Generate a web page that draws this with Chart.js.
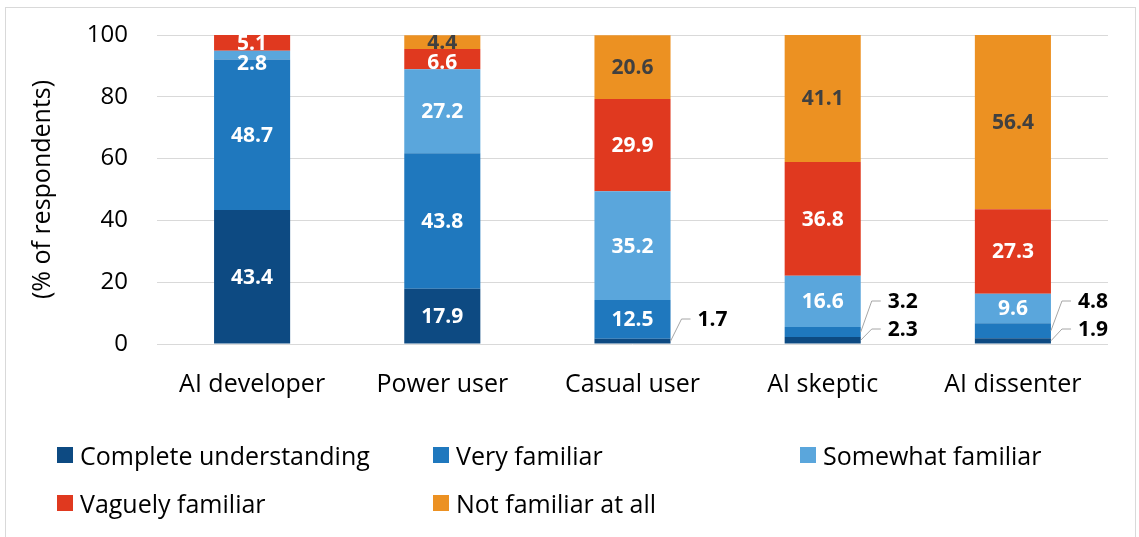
<!DOCTYPE html>
<html>
<head>
<meta charset="utf-8">
<script src="https://cdn.jsdelivr.net/npm/chart.js@4.4.1/dist/chart.umd.min.js"></script>
<style>
  html, body { margin: 0; padding: 0; background: #fff; }
  #wrap { position: relative; width: 1139px; height: 537px; overflow: hidden; font-family: "Open Sans", sans-serif; }
  #frame { position: absolute; left: 5px; top: 7px; width: 1129px; height: 540px; border: 1px solid #d9d9d9; pointer-events: none; }
  canvas { position: absolute; left: 0; top: 0; }
  .leg { position: absolute; display: flex; align-items: center; font-size: 25px; color: #000; white-space: nowrap; }
  .leg span.box { display: inline-block; width: 16px; height: 16px; margin-right: 7px; }
</style>
</head>
<body>
<div id="wrap">
  <canvas id="chart" width="1139" height="537"></canvas>
  <div id="legend"></div>
  <div id="frame"></div>
</div>
<script>
// Categorías y series
const categorias = ['AI developer', 'Power user', 'Casual user', 'AI skeptic', 'AI dissenter'];
const series = ['Complete understanding', 'Very familiar', 'Somewhat familiar', 'Vaguely familiar', 'Not familiar at all'];
const completa = [43.4, 17.9, 1.7, 2.3, 1.9];
const muyFamiliar = [48.7, 43.8, 12.5, 3.2, 4.8];
const algoFamiliar = [2.8, 27.2, 35.2, 16.6, 9.6];
const vagamente = [5.1, 6.6, 29.9, 36.8, 27.3];
const nada = [0, 4.4, 20.6, 41.1, 56.4];
const ticksY = [0, 20, 40, 60, 80, 100];

const colores = ['#0d4a82', '#1f78be', '#5aa6dc', '#e0391f', '#ec9122'];
const FUENTE = '"Open Sans", sans-serif';

const valores = [completa, muyFamiliar, algoFamiliar, vagamente, nada];

// Etiquetas de datos (dentro y fuera con línea guía)
const etiquetasPlugin = {
    id: 'etiquetas',
    afterDatasetsDraw(chart) {
        const ctx = chart.ctx;
        const area = chart.chartArea;
        const yScale = chart.scales.y;
        const zeroY = yScale.getPixelForValue(0);
        ctx.save();
        ctx.font = 'bold 21px ' + FUENTE;
        ctx.textAlign = 'center';
        ctx.textBaseline = 'middle';
        categorias.forEach((cat, i) => {
            // dentro, de arriba hacia abajo
            let prevY = -Infinity;
            const fuera = [];
            for (let d = valores.length - 1; d >= 0; d--) {
                const v = valores[d][i];
                if (!v) continue;
                const bar = chart.getDatasetMeta(d).data[i];
                const cy = (bar.y + bar.base) / 2;
                if (d <= 1 && v < 5) {
                    fuera.unshift({ v, cy, bar });
                    continue;
                }
                const y = Math.max(cy, prevY + 20);
                prevY = y;
                ctx.save();
                ctx.beginPath();
                ctx.rect(area.left, area.top, area.right - area.left, area.bottom - area.top);
                ctx.clip();
                ctx.fillStyle = d === 4 ? '#404040' : '#ffffff';
                ctx.fillText(v.toFixed(1), bar.x, y + 1);
                ctx.restore();
            }
            // fuera, de abajo hacia arriba
            fuera.forEach((f, k) => {
                const right = f.bar.x + f.bar.width / 2;
                const ly = fuera.length === 1 ? zeroY - 25 : zeroY - 15 - 28 * k;
                ctx.strokeStyle = '#a6a6a6';
                ctx.lineWidth = 1;
                ctx.beginPath();
                ctx.moveTo(right, f.cy);
                ctx.lineTo(right + 11, ly);
                ctx.lineTo(right + 20, ly);
                ctx.stroke();
                ctx.fillStyle = '#000000';
                ctx.textAlign = 'left';
                ctx.fillText(f.v.toFixed(1), right + 27, ly + 1);
                ctx.textAlign = 'center';
            });
        });
        ctx.restore();
    }
};

const ctx = document.getElementById('chart').getContext('2d');
new Chart(ctx, {
    type: 'bar',
    data: {
        labels: categorias,
        datasets: series.map((s, d) => ({
            label: s,
            data: valores[d],
            backgroundColor: colores[d],
            borderWidth: 0,
            categoryPercentage: 1,
            barPercentage: 0.4
        }))
    },
    options: {
        responsive: false,
        animation: false,
        events: [],
        layout: { padding: { left: 10, right: 31, top: 35, bottom: 113 } },
        plugins: {
            legend: { display: false },
            tooltip: { enabled: false }
        },
        scales: {
            x: {
                stacked: true,
                grid: { display: false },
                border: { display: false },
                ticks: { color: '#000', font: { family: FUENTE, size: 25 }, padding: 18 },
                afterFit: s => { s.height = 80; s.paddingLeft = 0; s.paddingRight = 0; }
            },
            y: {
                stacked: true,
                min: 0,
                max: 100,
                afterBuildTicks: s => { s.ticks = ticksY.map(v => ({ value: v })); },
                grid: { color: '#d9d9d9', lineWidth: 1, drawTicks: false },
                border: { display: false },
                ticks: { color: '#000', font: { family: FUENTE, size: 24 }, padding: 29 },
                title: {
                    display: true,
                    text: '(% of respondents)',
                    color: '#000',
                    font: { family: FUENTE, size: 25 },
                    padding: { top: 18, bottom: 0 }
                },
                afterFit: s => { s.width = 147; s.paddingTop = 0; s.paddingBottom = 0; }
            }
        }
    },
    plugins: [etiquetasPlugin]
});

// Leyenda en HTML
const colsX = [57, 433, 800];
const filasY = [455, 503];
const leyenda = document.getElementById('legend');
series.forEach((s, k) => {
    const el = document.createElement('div');
    el.className = 'leg';
    el.style.left = colsX[k % 3] + 'px';
    el.style.top = (filasY[Math.floor(k / 3)] - 15) + 'px';
    el.style.height = '30px';
    el.innerHTML = '<span class="box" style="background:' + colores[k] + '"></span>' + s;
    leyenda.appendChild(el);
});
</script>
</body>
</html>
